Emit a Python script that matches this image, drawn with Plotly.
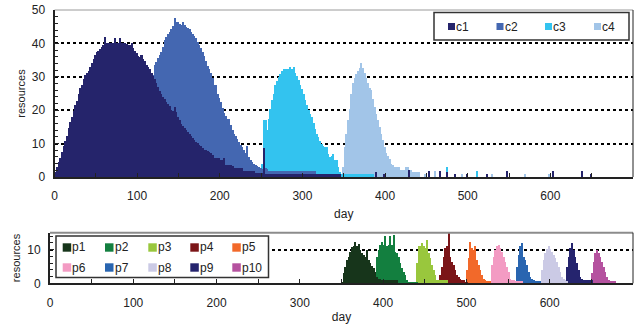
import plotly.graph_objects as go

# ---------------- data ----------------
# top panel: daily resources per class, 2-day bins starting at *_start
c1_start = 0
c1_vals = [1.5, 3, 4.5, 5.7, 7.5, 9.2, 10.7, 12.3, 14.8, 16.5,
           18, 19.8, 21.5, 22.7, 24.8, 26.5, 27.6, 29.2, 30.5, 31.2,
           31.8, 33, 34, 35.2, 36.5, 37.4, 37.8, 38.2, 38.8, 39.5,
           42, 40, 40, 40, 40, 40, 41.5, 40, 40, 41.5,
           40, 40, 40, 39.7, 39.5, 39.5, 40, 38.5, 37.8, 37,
           36.2, 36, 36.5, 35.3, 34.7, 33.5, 33, 32.3, 31, 30.2,
           29.3, 28, 27, 25.8, 25, 24, 23.3, 22.6, 22, 21.2,
           20, 19.7, 21, 19.5, 18, 17.2, 16, 15.3, 14.6, 14,
           13.4, 12.8, 12.2, 11.7, 11, 10.5, 10.2, 9.7, 9.2, 8.7,
           8.2, 8, 7.8, 7.6, 7.2, 6.6, 5.7, 5.7, 5.7, 5.7,
           5, 5, 5.7, 3.7, 3.7, 3.7, 3.7, 3.3, 2.7, 2.7,
           2.7, 2.7, 2.7, 2.7, 1.7, 1.7, 1.7, 1.7, 1.7, 1.7,
           1.7, 1.3, 1.2, 1.2, 1.2, 1.2, 8.6,
           0.9, 0.9, 0.9, 0.9, 0.9, 0.9, 0.9, 0.9, 0.9, 0.9,
           0.9, 0.9, 0.9, 0.9, 0.9, 0.9, 0.9, 0.9, 0.9, 0.9,
           0.9, 0.9, 0.9, 0.9, 0.9, 0.9, 0.9, 0.9, 0.9, 0.9,
           0.9, 0.9, 0.9, 0.9, 0.9, 0.9, 0.9, 0.9, 0.9, 0.9,
           0.9, 0.9, 0.9, 0.9, 0.9, 0.9]

c2_start = 118
c2_vals = [30.5, 33.5, 34.5, 35.5, 36.5, 37.5, 39, 41, 42, 42.7,
           43.5, 44.3, 45.2, 47.5, 46.5, 46.3, 45.8, 45.5, 46.5, 45.5,
           45, 44.7, 44.2, 43.5, 42.8, 42.2, 41.7, 40.5, 39.5, 38.5,
           37.5, 36.3, 34.8, 33.3, 32.2, 31.2, 29.5, 27.5, 27.5, 25,
           23.7, 22.5, 20.8, 19.3, 18.2, 17.3, 17.5, 15.7, 14, 12.8,
           12.2, 11.5, 10.5, 9.7, 9, 8, 7.2, 9.2, 6, 5,
           4.4, 4, 3.7, 3.3, 3, 2.7, 2.5, 2.6, 2.6, 2.5,
           1.8, 1.8, 1.8, 1.8, 1.8, 1.8, 1.8, 1.8, 1.8, 1.8,
           1.8, 1.8, 1.8, 1.8, 1.8, 1.8, 1.8, 1.8, 1.8, 1.8,
           1.8, 1.8, 1.8, 1.8, 1.8, 1.8, 1.8, 1.8, 1.8]

c3_start = 250
c3_vals = [4, 17, 17, 14, 17.5, 20.5, 23, 24.8, 27.5, 28.8,
           29.8, 30.8, 31.8, 32.2, 32.2, 32.2, 32.2, 32.8, 32.2, 32.8,
           31, 30.2, 29, 27.6, 26.2, 24.8, 23, 21.5, 20.2, 19,
           18, 16.3, 14.3, 12.9, 11.9, 10.9, 10, 9.3, 9, 9,
           6.9, 6, 6.2, 7, 5, 5, 3, 1.5,
           0.9, 0.9, 0.9, 0.9, 0.9, 0.9, 0.9, 0.9, 0.9, 0.9,
           0.9, 0.9, 0.9, 0.9, 0.9, 0.9, 0.9, 0.9, 0.9, 0.9]

c4_start = 348
c4_vals = [3, 8.9, 13, 17, 20.5, 25, 28, 29.5, 30.8, 31.8,
           32.5, 34, 32.5, 31, 29.7, 28, 26.6, 26, 23.5, 21,
           18.8, 17, 15, 13, 11, 9, 7.2, 6.3, 5.5, 4,
           3.5, 3, 3, 3, 3, 2, 2, 2, 3, 3,
           2, 2, 1.5, 1.5, 1.5, 1.5, 1.5]

# isolated single-day bars in the long tail
c1_spike_days = [389, 398, 428, 452, 466, 474, 484, 498, 523, 547, 603, 638, 648]
c1_spike_vals = [1.5, 1, 2, 1.8, 1.8, 1.5, 1, 1, 1, 1.7, 1.7, 1.7, 1]
c3_spike_days = [474, 511]
c3_spike_vals = [3, 1.8]
c4_spike_days = [448, 460, 492, 529, 569, 598]
c4_spike_vals = [1, 1.8, 1, 1, 1, 1]

# bottom panel: per-project resources, 2-day bins
p_starts = [350, 390, 440, 468, 500, 530, 560, 590, 620, 650]
p1_vals = [0.5, 3, 5, 7, 8, 9.5, 10.8, 11, 12.2, 11, 11.8, 10, 9, 8.5, 8, 10,
           7, 6, 5.3, 4.5, 3.5, 2, 1.5, 1.5, 1, 1, 1, 1, 1, 1, 1, 1, 1, 1]
p2_vals = [3, 8, 10, 11.5, 12.2, 11.5, 14, 11.2, 11.5, 14, 11.5, 14.5, 9.5, 9,
           8, 6, 4.5, 3.5, 2.5, 1, 0.5, 0.5, 0.5, 0.5, 0.5, 0.5]
p3_vals = [6, 11, 11, 12, 11, 10.5, 13, 9, 7.5, 5.5, 4, 2.5, 1, 1, 1, 1, 1, 1, 1]
p4_vals = [2.5, 5, 8, 10.5, 11, 15, 8, 6.5, 5.5, 4, 2.5, 2, 1.5, 1.2, 1, 0.5, 0.5]
p5_vals = [4, 7.5, 12.2, 10.5, 10, 11, 7, 5.5, 4, 2.5, 1.5, 1, 0.8, 0.8, 0.8]
p6_vals = [5.5, 8, 10, 11, 11.5, 10.5, 9.5, 8, 6.5, 5, 3.5, 1.5, 1, 1,
           0.8, 0.8, 0.8, 0.8, 0.8]
p7_vals = [5, 8.5, 11, 12, 8, 7, 5.5, 3.5, 2, 1.5, 1, 0.8, 0.8, 0.8, 0.8]
p8_vals = [4, 7, 9, 10.2, 11, 10.2, 9.5, 8.5, 7.5, 6.5, 5, 3.5, 2, 1.5, 1, 0.8]
p9_vals = [5, 8, 10.5, 12, 10, 8, 6, 4, 2, 1.5, 1, 1, 1, 1, 1, 1]
p10_vals = [3, 6.5, 9, 10, 9, 7.8, 6.3, 4.8, 3.3, 2, 1, 0.8, 0.8, 0.8, 0.8]

class_names = ["c1", "c2", "c3", "c4"]
class_colors = ["#25246b", "#4467b1", "#33c3ef", "#a2c5e8"]
proj_names = ["p1", "p2", "p3", "p4", "p5", "p6", "p7", "p8", "p9", "p10"]
proj_colors = ["#17351b", "#137f3f", "#99c73d", "#7b1518", "#f2692a",
               "#f39bc3", "#2965b0", "#cbcae5", "#25246e", "#b5529f"]

top_yticks = [0, 10, 20, 30, 40, 50]
bot_yticks = [0, 10]
xticks = [0, 100, 200, 300, 400, 500, 600]

# ---------------- figure ----------------
FONT = "Liberation Sans, Arial, sans-serif"
INK = "#222222"
BIN = 2
W, H = 642, 324


def px_x(p):
    return p / W


def px_y(p):
    return 1 - p / H


fig = go.Figure()


def binned(start, vals):
    xs = [start + BIN * i + BIN / 2 for i in range(len(vals))]
    return xs, list(vals), [BIN] * len(vals)


top_series = [
    (c1_start, c1_vals, c1_spike_days, c1_spike_vals),
    (c2_start, c2_vals, [], []),
    (c3_start, c3_vals, c3_spike_days, c3_spike_vals),
    (c4_start, c4_vals, c4_spike_days, c4_spike_vals),
]

# draw c4 first so that c1 ends up in front
for idx in [3, 2, 1, 0]:
    start, vals, sd, sv = top_series[idx]
    xs, ys, ws = binned(start, vals)
    xs += list(sd)
    ys += list(sv)
    ws += [1.2] * len(sd)
    fig.add_trace(go.Bar(x=xs, y=ys, width=ws, name=class_names[idx],
                         marker=dict(color=class_colors[idx], line=dict(width=0)),
                         xaxis="x", yaxis="y", showlegend=False,
                         hoverinfo="x+y+name"))

proj_vals = [p1_vals, p2_vals, p3_vals, p4_vals, p5_vals,
             p6_vals, p7_vals, p8_vals, p9_vals, p10_vals]
for idx in range(9, -1, -1):
    xs, ys, ws = binned(p_starts[idx], proj_vals[idx])
    fig.add_trace(go.Bar(x=xs, y=ys, width=ws, name=proj_names[idx],
                         marker=dict(color=proj_colors[idx], line=dict(width=0)),
                         xaxis="x2", yaxis="y2", showlegend=False,
                         hoverinfo="x+y+name"))

# ---------------- legends (key squares + labels) ----------------
shapes = [
    # frame of the top panel (top & right)
    dict(type="line", xref="x domain", yref="y domain", x0=0, x1=1, y0=1, y1=1,
         line=dict(color="#9a9a9a", width=1), layer="below"),
    dict(type="line", xref="x domain", yref="y domain", x0=1, x1=1, y0=0, y1=1,
         line=dict(color=INK, width=1)),
    # frame of the bottom panel
    dict(type="line", xref="x2 domain", yref="y2 domain", x0=0, x1=1, y0=1, y1=1,
         line=dict(color="#8c8c8c", width=2)),
    dict(type="line", xref="x2 domain", yref="y2 domain", x0=1, x1=1, y0=0, y1=1,
         line=dict(color=INK, width=1)),
    # legend boxes
    dict(type="rect", xref="paper", yref="paper",
         x0=px_x(434), x1=px_x(629), y0=px_y(40), y1=px_y(12.5),
         line=dict(color="#333333", width=1.5), fillcolor="white", layer="above"),
    dict(type="rect", xref="paper", yref="paper",
         x0=px_x(56), x1=px_x(268.5), y0=px_y(277.5), y1=px_y(236),
         line=dict(color="#333333", width=1.5), fillcolor="white", layer="above"),
]
annotations = []

top_key_x = [448, 496.5, 545, 594]
top_key_y = 26.5
for name, col, kx in zip(class_names, class_colors, top_key_x):
    shapes.append(dict(type="rect", xref="paper", yref="paper", layer="above",
                       x0=px_x(kx), x1=px_x(kx + 7), y0=px_y(top_key_y + 3.5), y1=px_y(top_key_y - 3.5),
                       fillcolor=col, line=dict(width=0)))
    annotations.append(dict(text=name, xref="paper", yref="paper", showarrow=False,
                            x=px_x(kx + 7), y=px_y(top_key_y), xanchor="left", yanchor="middle",
                            borderpad=0, font=dict(family=FONT, size=12, color=INK)))

bot_key_x = [62.7, 105, 148.3, 190.3, 232.3]
bot_key_y = [247.5, 267.5]
for i, (name, col) in enumerate(zip(proj_names, proj_colors)):
    kx = bot_key_x[i % 5]
    ky = bot_key_y[i // 5]
    shapes.append(dict(type="rect", xref="paper", yref="paper", layer="above",
                       x0=px_x(kx), x1=px_x(kx + 8.5), y0=px_y(ky + 4.2), y1=px_y(ky - 4.2),
                       fillcolor=col, line=dict(width=0)))
    annotations.append(dict(text=name, xref="paper", yref="paper", showarrow=False,
                            x=px_x(kx + 8.5), y=px_y(ky), xanchor="left", yanchor="middle",
                            borderpad=0, font=dict(family=FONT, size=12, color=INK)))

axis_common = dict(
    showline=True, linecolor=INK, linewidth=2,
    ticks="inside", ticklen=4, tickcolor=INK, tickwidth=1,
    tickfont=dict(family=FONT, size=12, color=INK),
    zeroline=False, automargin=False,
)

xa = dict(axis_common, range=[0, 700], tickvals=xticks,
          showgrid=False,
          minor=dict(dtick=50, ticks="inside", ticklen=4, tickcolor=INK, showgrid=False),
          ticklabelstandoff=7)
ya_grid = dict(showgrid=True, gridcolor="#000000", gridwidth=1.5, griddash="dot")

fig.update_layout(
    width=W, height=H,
    margin=dict(l=0, r=0, t=0, b=0),
    paper_bgcolor="white", plot_bgcolor="white",
    barmode="overlay", bargap=0, showlegend=False,
    font=dict(family=FONT, size=12, color=INK),
    xaxis=dict(xa, domain=[px_x(54.5), px_x(633)], anchor="y",
               title=dict(text="day", font=dict(family=FONT, size=12, color=INK), standoff=7)),
    yaxis=dict(axis_common, **ya_grid, domain=[px_y(177), px_y(10)], anchor="x",
               range=[0, 50], tickvals=top_yticks,
               minor=dict(dtick=2, ticks="inside", ticklen=3, tickcolor=INK, showgrid=False),
               ticklabelstandoff=5,
               title=dict(text="resources", font=dict(family=FONT, size=11, color=INK), standoff=4)),
    xaxis2=dict(xa, domain=[px_x(50), px_x(633)], anchor="y2",
                title=dict(text="day", font=dict(family=FONT, size=12, color=INK), standoff=4)),
    yaxis2=dict(axis_common, **ya_grid, domain=[px_y(283.3), px_y(232.7)], anchor="x2",
                range=[0, 15], tickvals=bot_yticks,
                minor=dict(dtick=2, ticks="inside", ticklen=3, tickcolor=INK, showgrid=False),
                ticklabelstandoff=5,
                title=dict(text="resources", font=dict(family=FONT, size=11, color=INK), standoff=4)),
    shapes=shapes,
    annotations=annotations,
)

fig.write_html("out.html", config={"displayModeBar": False},
               post_script="document.body.style.margin='0px';")
